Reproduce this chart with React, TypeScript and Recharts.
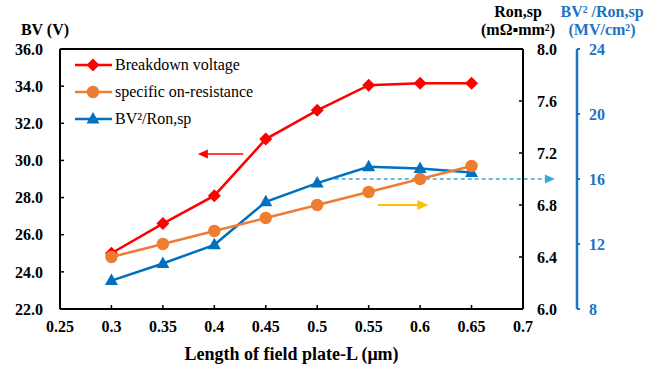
import React from 'react'
import { ComposedChart, Line, XAxis, YAxis, ReferenceLine, Legend } from 'recharts'

// field plate length (µm)
const lengths = [0.3, 0.35, 0.4, 0.45, 0.5, 0.55, 0.6, 0.65]
// breakdown voltage (V), left axis
const breakdownV = [25.0, 26.6, 28.1, 31.15, 32.7, 34.05, 34.15, 34.15]
// specific on-resistance (mΩ·mm²), first right axis
const ronSp = [6.4, 6.5, 6.6, 6.7, 6.8, 6.9, 7.0, 7.1]
// BV²/Ron,sp (MV/cm²), second right axis
const figureOfMerit = [9.75, 10.8, 11.95, 14.6, 15.75, 16.75, 16.65, 16.4]

const xTicks = [0.25, 0.3, 0.35, 0.4, 0.45, 0.5, 0.55, 0.6, 0.65, 0.7]
const bvTicks = [22, 24, 26, 28, 30, 32, 34, 36]
const ronTicks = [6.0, 6.4, 6.8, 7.2, 7.6, 8.0]
const fomTicks = [8, 12, 16, 20, 24]

const legendNames = ['Breakdown voltage', 'specific on-resistance', 'BV²/Ron,sp']

const SERIF = '"Liberation Serif", "Times New Roman", serif'
const RED = '#FF0000'
const ORANGE = '#ED7D31'
const BLUE = '#0070C0'
const AXIS_BLUE = '#1F73C4'
const GOLD = '#FFC000'
const DASH_BLUE = '#3BA6DC'

const data = lengths.map((L, i) => ({ L, bv: breakdownV[i], ron: ronSp[i], fom: figureOfMerit[i] }))

function Diamond({ cx, cy }: { cx: number; cy: number }) {
  const r = 6.5
  return <polygon points={`${cx},${cy - r} ${cx + r},${cy} ${cx},${cy + r} ${cx - r},${cy}`} fill={RED} />
}

function Circle({ cx, cy }: { cx: number; cy: number }) {
  return <circle cx={cx} cy={cy} r={6.2} fill={ORANGE} />
}

function Triangle({ cx, cy }: { cx: number; cy: number }) {
  return <polygon points={`${cx},${cy - 7} ${cx + 6.5},${cy + 4.5} ${cx - 6.5},${cy + 4.5}`} fill={BLUE} />
}

const markers = [Diamond, Circle, Triangle]
const colors = [RED, ORANGE, BLUE]

// arrow drawn along a ReferenceLine segment, head at the second point
const arrow = (color: string, width: number, head: number, dash?: string) => (p: any) => {
  const { x1, y1, x2, y2 } = p
  if (x1 == null || x2 == null) return null
  const ang = Math.atan2(y2 - y1, x2 - x1)
  const bx = x2 - head * Math.cos(ang)
  const by = y2 - head * Math.sin(ang)
  const hw = head * 0.45
  const px = -Math.sin(ang) * hw
  const py = Math.cos(ang) * hw
  return (
    <g>
      <line x1={x1} y1={y1} x2={bx} y2={by} stroke={color} strokeWidth={width} strokeDasharray={dash} />
      <polygon points={`${x2},${y2} ${bx + px},${by + py} ${bx - px},${by - py}`} fill={color} />
    </g>
  )
}

const renderLegend = () => (
  <div style={{ fontFamily: SERIF, fontSize: 16, color: '#000' }}>
    {legendNames.map((name, i) => {
      const M = markers[i]
      return (
        <div key={name} style={{ display: 'flex', alignItems: 'center', height: 27 }}>
          <svg width={40} height={20} style={{ display: 'block' }}>
            <line x1={0} y1={10} x2={37} y2={10} stroke={colors[i]} strokeWidth={2.5} />
            <M cx={18} cy={10} />
          </svg>
          <span style={{ whiteSpace: 'nowrap' }}>{name}</span>
        </div>
      )
    })}
  </div>
)

const tickStyle = { fill: '#000', fontSize: 16, fontWeight: 'bold', fontFamily: SERIF }

const titleStyle: React.CSSProperties = {
  position: 'absolute',
  fontFamily: SERIF,
  fontSize: 16,
  fontWeight: 'bold',
  lineHeight: '16px',
  whiteSpace: 'nowrap',
  transform: 'translateX(-50%)',
}

export default function App() {
  return (
    <div style={{ position: 'absolute', left: 0, top: 0, width: 667, height: 374, background: '#fff' }}>
      <ComposedChart width={667} height={374} data={data} margin={{ top: 49, right: 0, bottom: 0, left: 0 }}>
        <XAxis
          dataKey="L"
          type="number"
          domain={[0.25, 0.7]}
          ticks={xTicks}
          height={65}
          tick={tickStyle}
          tickSize={-4}
          tickMargin={16}
          tickLine={{ stroke: '#000', strokeWidth: 1.5 }}
          axisLine={{ stroke: '#000', strokeWidth: 2 }}
          label={{ value: 'Length of field plate-L (μm)', position: 'insideBottom', offset: 14, style: { fill: '#000', fontSize: 18, fontWeight: 'bold', fontFamily: SERIF } }}
        />
        <YAxis
          yAxisId="bv"
          orientation="left"
          type="number"
          domain={[22, 36]}
          ticks={bvTicks}
          width={60}
          tick={tickStyle}
          tickFormatter={(v: number) => v.toFixed(1)}
          tickSize={-4}
          tickMargin={21}
          tickLine={{ stroke: '#000', strokeWidth: 1.5 }}
          axisLine={{ stroke: '#000', strokeWidth: 2 }}
        />
        <YAxis
          yAxisId="r2fom"
          orientation="right"
          type="number"
          domain={[8, 24]}
          ticks={fomTicks}
          width={90}
          tick={{ ...tickStyle, fill: AXIS_BLUE }}
          tickSize={3}
          tickMargin={9}
          tickLine={{ stroke: AXIS_BLUE, strokeWidth: 2 }}
          axisLine={{ stroke: AXIS_BLUE, strokeWidth: 2.5 }}
        />
        <YAxis
          yAxisId="r1ron"
          orientation="right"
          type="number"
          domain={[6, 8]}
          ticks={ronTicks}
          width={54}
          tick={tickStyle}
          tickFormatter={(v: number) => v.toFixed(1)}
          tickSize={-4}
          tickMargin={18}
          tickLine={{ stroke: '#000', strokeWidth: 1.5 }}
          axisLine={{ stroke: '#000', strokeWidth: 2 }}
        />
        <ReferenceLine yAxisId="bv" y={36} stroke="#000" strokeWidth={2} />
        <ReferenceLine
          yAxisId="bv"
          segment={[{ x: 0.428, y: 30.35 }, { x: 0.384, y: 30.35 }]}
          shape={arrow(RED, 1.5, 10)}
        />
        <ReferenceLine
          yAxisId="r1ron"
          segment={[{ x: 0.559, y: 6.8 }, { x: 0.608, y: 6.8 }]}
          shape={arrow(GOLD, 2, 11)}
        />
        <ReferenceLine
          yAxisId="r2fom"
          ifOverflow="visible"
          segment={[{ x: 0.517, y: 16 }, { x: 0.731, y: 16 }]}
          shape={arrow(DASH_BLUE, 1.5, 10, '4 3')}
        />
        <Line
          yAxisId="r2fom"
          dataKey="fom"
          type="linear"
          stroke={BLUE}
          strokeWidth={2.5}
          dot={(p: any) => <Triangle key={`t${p.index}`} cx={p.cx} cy={p.cy} />}
          activeDot={false}
          isAnimationActive={false}
        />
        <Line
          yAxisId="bv"
          dataKey="bv"
          type="linear"
          stroke={RED}
          strokeWidth={2.5}
          dot={(p: any) => <Diamond key={`d${p.index}`} cx={p.cx} cy={p.cy} />}
          activeDot={false}
          isAnimationActive={false}
        />
        <Line
          yAxisId="r1ron"
          dataKey="ron"
          type="linear"
          stroke={ORANGE}
          strokeWidth={2.5}
          dot={(p: any) => <Circle key={`c${p.index}`} cx={p.cx} cy={p.cy} />}
          activeDot={false}
          isAnimationActive={false}
        />
        <Legend
          layout="vertical"
          align="center"
          verticalAlign="middle"
          content={renderLegend}
          wrapperStyle={{ left: 75, top: 51, width: 230 }}
        />
      </ComposedChart>
      <div style={{ ...titleStyle, left: 45, top: 22 }}>BV (V)</div>
      <div style={{ ...titleStyle, left: 518, top: 4 }}>Ron,sp</div>
      <div style={{ ...titleStyle, left: 518, top: 22 }}>(mΩ▪mm²)</div>
      <div style={{ ...titleStyle, left: 602, top: 4, color: AXIS_BLUE }}>BV² /Ron,sp</div>
      <div style={{ ...titleStyle, left: 602, top: 22, color: AXIS_BLUE }}>(MV/cm²)</div>
    </div>
  )
}
